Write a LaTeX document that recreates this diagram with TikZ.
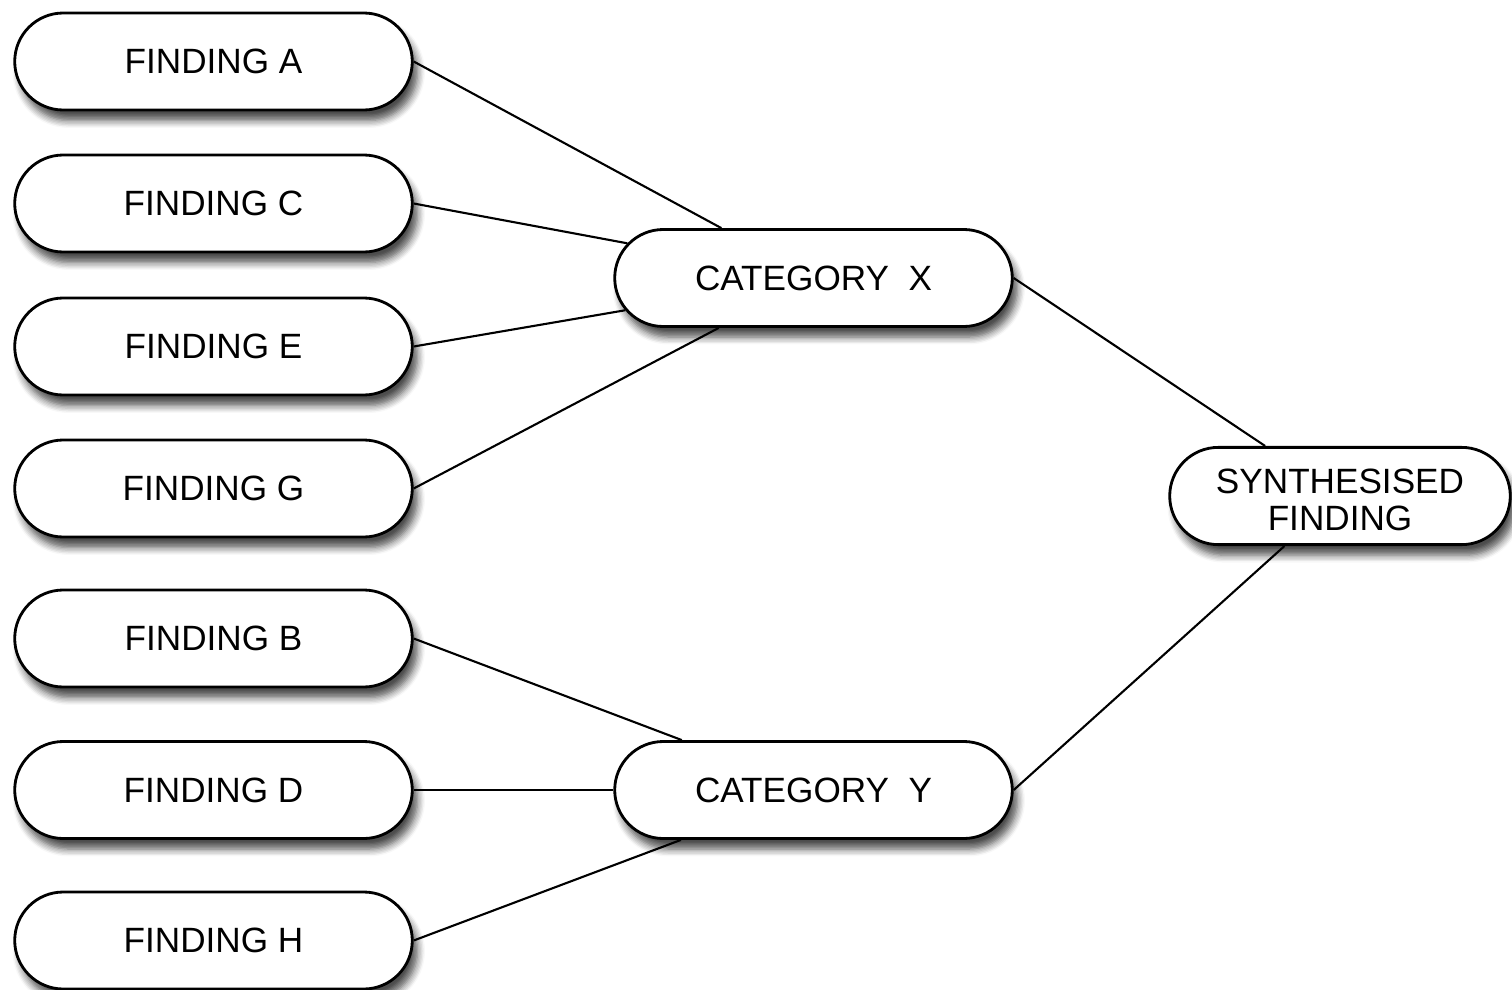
\documentclass[tikz,border=0pt]{standalone}
\usepackage{fontspec}
\setmainfont{Liberation Sans}
\usetikzlibrary{shapes.misc,shadows.blur}
\begin{document}
\begin{tikzpicture}[
		box/.style={rounded rectangle,draw,thick,fill=white,minimum width=4.21cm,minimum height=0.97cm,
			font=\fontsize{10}{10.5}\selectfont,
			blur shadow={shadow xshift=1.5pt,shadow yshift=-3pt,shadow blur steps=6,shadow opacity=70}},
		link/.style={semithick}]
		\useasboundingbox (0,0) rectangle (15.12,9.89);
		\node[box] (fa) at (2.135,9.275) {FINDING A};
		\node[box] (fc) at (2.135,7.855) {FINDING C};
		\node[box] (fe) at (2.135,6.425) {FINDING E};
		\node[box] (fg) at (2.135,5.005) {FINDING G};
		\node[box] (fb) at (2.135,3.505) {FINDING B};
		\node[box] (fd) at (2.135,1.99) {FINDING D};
		\node[box] (fh) at (2.135,0.485) {FINDING H};
		
		\node[box] (catx) at (8.135,7.11) {CATEGORY\ \ X};
		\node[box] (caty) at (8.135,1.99) {CATEGORY\ \ Y};
		\node[box,minimum width=3.64cm] (synth) at (13.40,4.93)
			{\makebox[1.9cm]{\raisebox{-2.4pt}[\height][\depth]{\begin{tabular}{@{}c@{}}SYNTHESISED\\FINDING\end{tabular}}}};
		
		\draw[link] (fa.east) -- (catx);
		\draw[link] (fc.east) -- (catx);
		\draw[link] (fe.east) -- (catx);
		\draw[link] (fg.east) -- (catx);
		\draw[link] (fb.east) -- (caty);
		\draw[link] (fd.east) -- (caty);
		\draw[link] (fh.east) -- (caty);
		\draw[link] (catx.east) -- (synth);
		\draw[link] (caty.east) -- (synth);
	\end{tikzpicture}
\end{document}
